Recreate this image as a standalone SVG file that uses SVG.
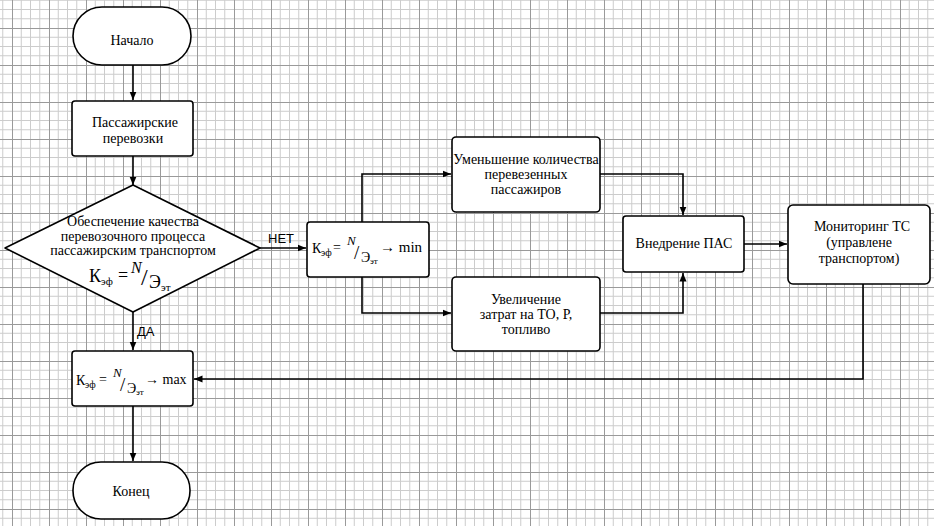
<svg xmlns="http://www.w3.org/2000/svg" width="934" height="526" viewBox="0 0 934 526">
<defs>
<pattern id="grid" x="12" y="28" width="37" height="37" patternUnits="userSpaceOnUse">
<path d="M9.25 0V37M18.5 0V37M27.75 0V37M0 9.25H37M0 18.5H37M0 27.75H37" stroke="#cccccc" stroke-width="1" fill="none"/>
<path d="M0.5 0V37M0 0.5H37" stroke="#9a9a9a" stroke-width="1" fill="none"/>
</pattern>
<marker id="arr" markerWidth="9" markerHeight="8" refX="8.5" refY="4" orient="auto" markerUnits="userSpaceOnUse">
<path d="M0,0.5 L8.5,4 L0,7.5 z" fill="#000"/>
</marker>
<style>
.shape{fill:#fff;stroke:#000;stroke-width:1.6;stroke-linejoin:round}
.t{font-family:"Liberation Serif","Times New Roman",serif;font-size:14px;fill:#000;text-anchor:middle}
.f{font-family:"Liberation Serif","Times New Roman",serif;fill:#000}
.lbl{font-family:"Liberation Sans",Arial,sans-serif;font-size:13px;fill:#000}
.c{fill:none;stroke:#000;stroke-width:1.6;marker-end:url(#arr)}
</style>
</defs>
<rect width="934" height="526" fill="#fff"/>
<rect width="934" height="526" fill="url(#grid)"/>

<g id="connectors">
<path class="c" d="M133 65V100"/>
<path class="c" d="M133 156V185"/>
<path class="c" d="M133 312V350"/>
<path class="c" d="M133 406V461"/>
<path class="c" d="M260 248H306"/>
<path class="c" d="M362 222V174H451"/>
<path class="c" d="M362 277V313H451"/>
<path class="c" d="M600 174H683V215"/>
<path class="c" d="M600 313H683V273"/>
<path class="c" d="M744 244H787"/>
<path class="c" d="M863 284V379H194"/>
<text class="lbl" x="268" y="243">НЕТ</text>
<text class="lbl" x="137" y="336">ДА</text>
</g>

<g id="start">
<rect class="shape" x="73" y="7" width="118" height="58" rx="29"/>
<text class="t" x="132" y="45">Начало</text>
</g>

<g id="transport">
<rect class="shape" x="72" y="101" width="121" height="55" rx="3"/>
<text class="t" x="135" y="127">Пассажирские</text>
<text class="t" x="133" y="143">перевозки</text>
</g>

<g id="decision">
<polygon class="shape" points="133,185 260,248 133,312 5,248"/>
<text class="t" x="133" y="226">Обеспечение качества</text>
<text class="t" x="133" y="241">перевозочного процесса</text>
<text class="t" x="133" y="255">пассажирским транспортом</text>
<text class="f" font-size="18"><tspan x="89" y="282">К</tspan><tspan x="101" y="285" font-size="11">эф</tspan><tspan x="118" y="281">=</tspan><tspan x="131" y="273" font-style="italic" font-size="16">N</tspan><tspan x="141" y="285" font-size="24">/</tspan><tspan x="149" y="288">Э</tspan><tspan x="161" y="291" font-size="11">эт</tspan></text>
</g>

<g id="kmin">
<rect class="shape" x="307" y="222" width="122" height="55" rx="3"/>
<text class="f" font-size="14"><tspan x="312" y="253">К</tspan><tspan x="321" y="256" font-size="10">эф</tspan><tspan x="333" y="252">=</tspan><tspan x="347" y="245" font-style="italic" font-size="13">N</tspan><tspan x="354" y="259" font-size="19">/</tspan><tspan x="361" y="262">Э</tspan><tspan x="370" y="264" font-size="9">эт</tspan><tspan x="380" y="252" font-size="15">→ min</tspan></text>
</g>

<g id="reduce">
<rect class="shape" x="452" y="137" width="148" height="75" rx="4"/>
<text class="t" x="526" y="164">Уменьшение количества</text>
<text class="t" x="526" y="179">перевезенных</text>
<text class="t" x="526" y="194">пассажиров</text>
</g>

<g id="increase">
<rect class="shape" x="452" y="277" width="148" height="74" rx="4"/>
<text class="t" x="526" y="304">Увеличение</text>
<text class="t" x="526" y="319">затрат на ТО, Р,</text>
<text class="t" x="526" y="334">топливо</text>
</g>

<g id="pas">
<rect class="shape" x="623" y="216" width="121" height="56" rx="3"/>
<text class="t" x="684" y="248">Внедрение ПАС</text>
</g>

<g id="monitoring">
<rect class="shape" x="788" y="205" width="142" height="79" rx="5"/>
<text class="t" x="862" y="231">Мониторинг ТС</text>
<text class="t" x="859" y="247">(управлене</text>
<text class="t" x="859" y="263">транспортом)</text>
</g>

<g id="kmax">
<rect class="shape" x="72" y="351" width="121" height="55" rx="3"/>
<text class="f" font-size="14"><tspan x="76" y="385">К</tspan><tspan x="85" y="388" font-size="10">эф</tspan><tspan x="99" y="384">=</tspan><tspan x="113" y="377" font-style="italic" font-size="13">N</tspan><tspan x="120" y="391" font-size="19">/</tspan><tspan x="127" y="393">Э</tspan><tspan x="136" y="395" font-size="9">эт</tspan><tspan x="145" y="384" font-size="14">→ max</tspan></text>
</g>

<g id="end">
<rect class="shape" x="73" y="462" width="117" height="57" rx="28"/>
<text class="t" x="131" y="496">Конец</text>
</g>
</svg>
